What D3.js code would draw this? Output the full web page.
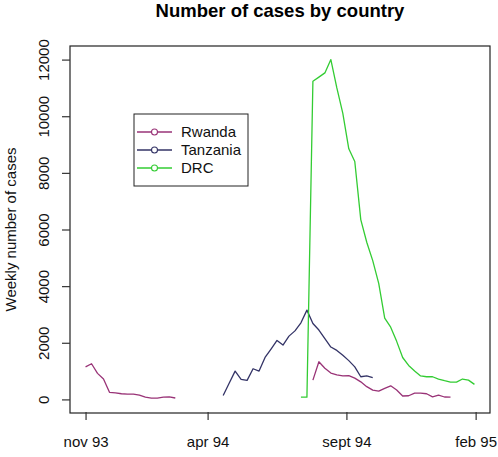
<!DOCTYPE html>
<html>
<head>
<meta charset="utf-8">
<script src="https://cdn.jsdelivr.net/npm/d3@7"></script>
<style>
  html, body { margin: 0; padding: 0; background: #fff; }
  svg { display: block; font-family: "Liberation Sans", Arial, sans-serif; }
</style>
</head>
<body>
<svg id="chart" width="498" height="457"></svg>
<script>
// ---- data (weekly counts; x = week index) ----
const seriesNames = ["Rwanda", "Tanzania", "DRC"];
const seriesColors = ["#993377", "#333366", "#33cc33"];

const rwandaStart1 = 1;
const rwanda1 = [1150, 1260, 920, 720, 250, 230, 200, 190, 190, 150, 80, 45, 45, 80, 90, 50];
const rwandaStart2 = 39;
const rwanda2 = [680, 1330, 1100, 930, 870, 830, 840, 750, 620, 450, 330, 290, 390, 480, 330, 120, 130, 220, 220, 200, 90, 150, 85, 80];

const tanzaniaStart = 24;
const tanzania = [141, 570, 1000, 706, 671, 1083, 1000, 1480, 1780, 2082, 1918, 2235, 2420, 2706, 3153, 2682, 2450, 2150, 1850, 1730, 1560, 1370, 1150, 800, 830, 770];

const drcStart = 37;
const drc = [80, 80, 11235, 11380, 11530, 12000, 11000, 10100, 8850, 8400, 6350, 5550, 4900, 4100, 2870, 2550, 2050, 1480, 1200, 1000, 830, 800, 800, 720, 660, 610, 610, 720, 680, 530];

const xTickWeeks = [1, 21.4, 44.6, 66.2];
const xTickLabels = ["nov 93", "apr 94", "sept 94", "feb 95"];
const yTicks = [0, 2000, 4000, 6000, 8000, 10000, 12000];

const titleText = "Number of cases by country";
const yTitle = "Weekly number of cases";

(function () {
// ---- build segments ----
function toPoints(start, vals) { return vals.map((v, i) => ({ w: start + i, v: v })); }
const segments = [
  { s: 0, pts: toPoints(rwandaStart1, rwanda1) },
  { s: 0, pts: toPoints(rwandaStart2, rwanda2) },
  { s: 1, pts: toPoints(tanzaniaStart, tanzania) },
  { s: 2, pts: toPoints(drcStart, drc) }
];

// ---- layout ----
const svg = d3.select("#chart");
const pL = 70, pR = 490, pT = 46, pB = 413;

const allW = segments.flatMap(s => s.pts.map(p => p.w));
const wMin = d3.min(allW), wMax = d3.max(allW);
const wPad = (wMax - wMin) * 0.04;
const x = d3.scaleLinear().domain([wMin - wPad, wMax + wPad]).range([pL, pR]);

const yMax = 12000, yPad = yMax * 0.04;
const y = d3.scaleLinear().domain([-yPad, yMax + yPad]).range([pB, pT]);

// lines
const line = d3.line().x(d => x(d.w)).y(d => y(d.v));
svg.append("g").selectAll("path").data(segments).join("path")
  .attr("d", d => line(d.pts))
  .attr("fill", "none")
  .attr("stroke", d => seriesColors[d.s])
  .attr("stroke-width", 1.3)
  .attr("stroke-linejoin", "round");

// frame
svg.append("rect")
  .attr("x", pL).attr("y", pT)
  .attr("width", pR - pL).attr("height", pB - pT)
  .attr("fill", "none").attr("stroke", "#222").attr("stroke-width", 1.2);

// y axis
const yAxis = d3.axisLeft(y).tickValues(yTicks).tickSize(8).tickPadding(5).tickFormat(d3.format("d"));
const gy = svg.append("g").attr("transform", `translate(${pL},0)`).call(yAxis);
gy.select(".domain").remove();
gy.selectAll(".tick line").attr("stroke", "#333").attr("stroke-width", 1.2);
gy.selectAll(".tick text")
  .attr("font-size", 15).attr("fill", "#111")
  .attr("font-family", "Liberation Sans, Arial, sans-serif")
  .attr("x", null).attr("dy", null)
  .attr("text-anchor", "middle")
  .attr("transform", "translate(-21,0) rotate(-90)");

// x axis
const xAxis = d3.axisBottom(x).tickValues(xTickWeeks).tickSize(8).tickPadding(16)
  .tickFormat((d, i) => xTickLabels[i]);
const gx = svg.append("g").attr("transform", `translate(0,${pB - 1})`).call(xAxis);
gx.select(".domain").remove();
gx.selectAll(".tick line").attr("stroke", "#333").attr("stroke-width", 1.2);
gx.selectAll(".tick text").attr("font-size", 15).attr("fill", "#111")
  .attr("font-family", "Liberation Sans, Arial, sans-serif");

// title
svg.append("text").attr("x", (pL + pR) / 2).attr("y", 17)
  .attr("text-anchor", "middle").attr("font-weight", "bold").attr("font-size", 18.5)
  .attr("fill", "#000").text(titleText);

// y title
svg.append("text")
  .attr("transform", `translate(16,${(pT + pB) / 2}) rotate(-90)`)
  .attr("text-anchor", "middle").attr("font-size", 15).attr("fill", "#111")
  .text(yTitle);

// legend
const lg = svg.append("g");
lg.append("rect").attr("x", 134).attr("y", 114).attr("width", 114).attr("height", 72)
  .attr("fill", "#fff").attr("stroke", "#222").attr("stroke-width", 1);
seriesNames.forEach((name, i) => {
  const yy = 132 + i * 18;
  lg.append("line").attr("x1", 137).attr("x2", 172).attr("y1", yy).attr("y2", yy)
    .attr("stroke", seriesColors[i]).attr("stroke-width", 1.3);
  lg.append("circle").attr("cx", 154.5).attr("cy", yy).attr("r", 3)
    .attr("fill", "#fff").attr("stroke", seriesColors[i]).attr("stroke-width", 1.1);
  lg.append("text").attr("x", 181).attr("y", yy).attr("dy", "0.35em")
    .attr("font-size", 15).attr("fill", "#111").text(name);
});
})();
</script>
</body>
</html>
